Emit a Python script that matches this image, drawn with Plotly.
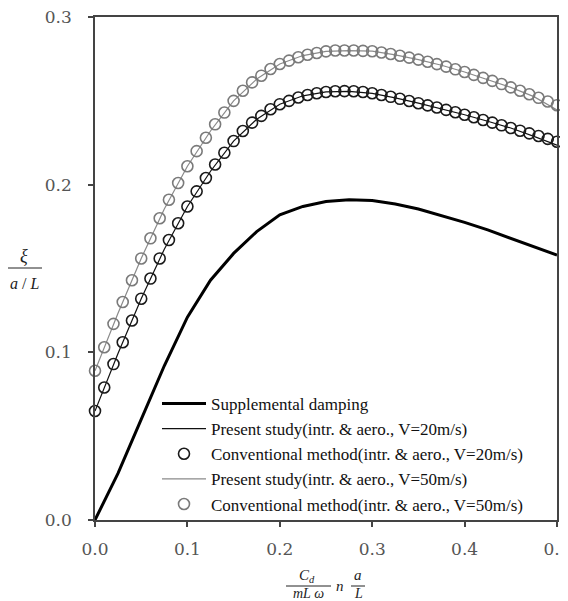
import plotly.graph_objects as go

# ---------------- data ----------------
x_circ = [round(i * 0.01, 2) for i in range(51)]

conv_20 = [0.065, 0.079, 0.093, 0.106, 0.119, 0.132, 0.144, 0.156, 0.167, 0.177,
           0.187, 0.196, 0.204, 0.212, 0.219, 0.226, 0.232, 0.237, 0.241, 0.245,
           0.248, 0.250, 0.252, 0.2535, 0.2545, 0.2553, 0.2557, 0.2558, 0.2557, 0.2553,
           0.2545, 0.2535, 0.2524, 0.2512, 0.2499, 0.2486, 0.2473, 0.2460, 0.2446, 0.2432,
           0.2417, 0.2402, 0.2386, 0.2370, 0.2354, 0.2338, 0.2322, 0.2306, 0.2290, 0.2273,
           0.2256]

conv_50 = [0.089, 0.103, 0.117, 0.130, 0.143, 0.156, 0.168, 0.180, 0.191, 0.201,
           0.211, 0.220, 0.228, 0.236, 0.243, 0.250, 0.256, 0.261, 0.265, 0.269,
           0.272, 0.274, 0.276, 0.2775, 0.2785, 0.2795, 0.2800, 0.2800, 0.2800, 0.2798,
           0.2796, 0.2788, 0.2779, 0.2769, 0.2758, 0.2746, 0.2733, 0.2719, 0.2704, 0.2688,
           0.2672, 0.2655, 0.2637, 0.2619, 0.2600, 0.2580, 0.2560, 0.2539, 0.2518, 0.2496,
           0.2474]

x_line = [0.0, 0.025, 0.05, 0.075, 0.1, 0.125, 0.15, 0.175, 0.2, 0.225, 0.25,
          0.275, 0.3, 0.325, 0.35, 0.375, 0.4, 0.425, 0.45, 0.475, 0.5]

supplemental = [0.0, 0.028, 0.060, 0.092, 0.121, 0.143, 0.159, 0.172, 0.182, 0.187, 0.190,
                0.191, 0.1905, 0.1885, 0.1855, 0.1815, 0.1775, 0.173, 0.168, 0.163, 0.158]

present_20 = [0.065, 0.0995, 0.132, 0.1615, 0.187, 0.208, 0.226, 0.239, 0.248, 0.253, 0.2553,
              0.2557, 0.2545, 0.2518, 0.2486, 0.2453, 0.2417, 0.2378, 0.2338, 0.2288, 0.2235]

present_50 = [0.089, 0.1235, 0.156, 0.1855, 0.211, 0.232, 0.250, 0.263, 0.272, 0.277, 0.2795,
              0.2800, 0.2796, 0.2774, 0.2746, 0.2712, 0.2672, 0.2628, 0.2580, 0.2525, 0.2445]

tick_vals = [0.0, 0.1, 0.2, 0.3, 0.4, 0.5]
tick_text = ["0.0", "0.1", "0.2", "0.3", "0.4", "0.5"]

names = ["Supplemental damping",
         "Present study(intr. & aero., V=20m/s)",
         "Conventional method(intr. & aero., V=20m/s)",
         "Present study(intr. & aero., V=50m/s)",
         "Conventional method(intr. & aero., V=50m/s)"]

# ---------------- layout constants (page px; the page has an 8px body margin) ----------------
OFF = 8
W, H = 560, 593
ML, MR, MT, MB = 87, 11, 9, 81
PW, PH = W - ML - MR, H - MT - MB


def px(xp):
    return (xp - OFF - ML) / PW


def py(yp):
    return (H - MB - (yp - OFF)) / PH


serif = "Liberation Serif"
tick_font = dict(family="DejaVu Serif", size=17, color="#555")

fig = go.Figure()
fig.add_trace(go.Scatter(x=x_line, y=supplemental, mode="lines", name=names[0],
                         line=dict(color="black", width=3)))
fig.add_trace(go.Scatter(x=x_line, y=present_20, mode="lines", name=names[1],
                         line=dict(color="#111", width=1.2)))
fig.add_trace(go.Scatter(x=x_circ, y=conv_20, mode="markers", name=names[2], cliponaxis=False,
                         marker=dict(symbol="circle-open", size=11, color="#1a1a1a",
                                     line=dict(width=1.6, color="#1a1a1a"))))
fig.add_trace(go.Scatter(x=x_line, y=present_50, mode="lines", name=names[3],
                         line=dict(color="#8a8a8a", width=1.2)))
fig.add_trace(go.Scatter(x=x_circ, y=conv_50, mode="markers", name=names[4], cliponaxis=False,
                         marker=dict(symbol="circle-open", size=11, color="#7a7a7a",
                                     line=dict(width=1.6, color="#7a7a7a"))))

axis_common = dict(showline=True, linecolor="#444", linewidth=1.5, mirror=True,
                   ticks="outside", ticklen=5, tickwidth=1.5, tickcolor="#444",
                   showgrid=False, zeroline=False, tickfont=tick_font,
                   tickvals=tick_vals, ticktext=tick_text, ticklabeloverflow="allow",
                   automargin=False)

fig.update_xaxes(range=[0, 0.5], ticklabelstandoff=8, **axis_common)
fig.update_yaxes(range=[0, 0.3], ticklabelstandoff=13, **axis_common)

annotations = [
    # y-axis title fraction
    dict(x=px(24), y=py(256), text="<i>ξ</i>", size=18),
    dict(x=px(24), y=py(283), text="<i>a</i> / <i>L</i>", size=16),
    # x-axis title
    dict(x=px(307), y=py(576), text="<i>C</i><sub><i>d</i></sub>", size=15),
    dict(x=px(308), y=py(594), text="<i>mL ω</i>", size=14),
    dict(x=px(340), y=py(586), text="<i>n</i>", size=15),
    dict(x=px(358), y=py(575), text="<i>a</i>", size=15),
    dict(x=px(358), y=py(594), text="<i>L</i>", size=14),
]
fig.update_layout(annotations=[dict(xref="paper", yref="paper", showarrow=False,
                                    xanchor="center", yanchor="middle", x=a["x"], y=a["y"],
                                    text=a["text"],
                                    font=dict(family=serif, size=a["size"], color="#222"))
                               for a in annotations])

shapes = [
    dict(x0=px(6), x1=px(42), y0=py(268), y1=py(268)),
    dict(x0=px(286), x1=px(331), y0=py(586), y1=py(586)),
    dict(x0=px(351), x1=px(365), y0=py(586), y1=py(586)),
]
fig.update_layout(shapes=[dict(s, type="line", xref="paper", yref="paper",
                               line=dict(color="#222", width=1)) for s in shapes])

fig.update_layout(
    width=W, height=H, autosize=False,
    margin=dict(l=ML, r=MR, t=MT, b=MB, autoexpand=False),
    plot_bgcolor="white", paper_bgcolor="white",
    showlegend=True,
    legend=dict(x=px(157), y=py(386), xanchor="left", yanchor="top",
                bgcolor="rgba(0,0,0,0)", borderwidth=0, tracegroupgap=0,
                font=dict(family=serif, size=17, color="#111"),
                itemwidth=44),
)

fig.write_html("out.html")
